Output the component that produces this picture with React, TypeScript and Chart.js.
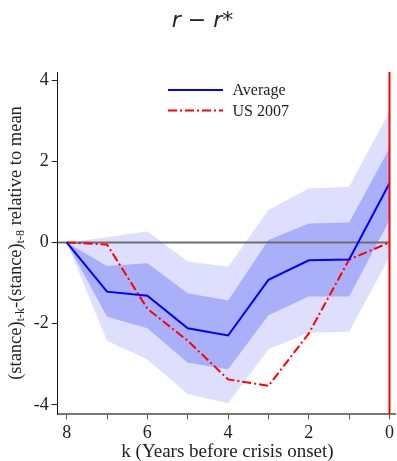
import React, { useEffect, useRef } from 'react';
import { Chart, registerables } from 'chart.js';
Chart.register(...registerables);

const K = [8, 7, 6, 5, 4, 3, 2, 1, 0];
const AVERAGE = [0, -1.21, -1.31, -2.11, -2.29, -0.92, -0.44, -0.42, 1.46];
const US_2007 = [0, -0.05, -1.63, -2.42, -3.37, -3.53, -2.24, -0.42, 0];
const INNER_UPPER = [0, -0.58, -0.51, -1.25, -1.43, 0.06, 0.47, 0.49, 2.32];
const INNER_LOWER = [0, -1.83, -2.11, -2.96, -3.12, -1.79, -1.33, -1.33, 0.55];
const OUTER_UPPER = [0, 0.13, 0.27, -0.47, -0.6, 0.8, 1.33, 1.37, 3.22];
const OUTER_LOWER = [0, -2.42, -2.88, -3.73, -3.96, -2.63, -2.22, -2.2, -0.35];
const X_TICKS = [8, 7, 6, 5, 4, 3, 2, 1, 0];
const Y_TICKS = [-4, -2, 0, 2, 4];
const LEGEND_LABELS = ['Average', 'US 2007'];

const SERIF = '"Liberation Serif", "DejaVu Serif", serif';
const LIGHT = '#dddffc';
const DARK = '#aaaff9';

export default function App() {
  const ref = useRef<HTMLCanvasElement>(null);
  useEffect(() => {
    const pts = (arr: number[]) => K.map((k, i) => ({ x: k, y: arr[i] }));
    const base = { pointRadius: 0, pointHoverRadius: 0, tension: 0 };
    const decor = {
      id: 'decor',
      beforeDatasetDraw(chart: any, args: any) {
        if (args.index !== 1) return;
        const ctx = chart.ctx;
        const { x, y } = chart.scales;
        const ca = chart.chartArea;
        ctx.save();
        ctx.strokeStyle = '#6e6e6e';
        ctx.lineWidth = 2;
        ctx.beginPath();
        const y0 = y.getPixelForValue(0);
        ctx.moveTo(ca.left, y0);
        ctx.lineTo(x.getPixelForValue(0), y0);
        ctx.stroke();
        ctx.restore();
      },
      afterDatasetsDraw(chart: any) {
        const ctx = chart.ctx;
        const { x } = chart.scales;
        const ca = chart.chartArea;
        ctx.save();
        ctx.strokeStyle = '#ff0000';
        ctx.lineWidth = 2;
        ctx.beginPath();
        const xp = x.getPixelForValue(0);
        ctx.moveTo(xp, ca.top);
        ctx.lineTo(xp, ca.bottom);
        ctx.stroke();
        ctx.restore();
      },
      afterDraw(chart: any) {
        const ctx = chart.ctx;
        ctx.save();
        // title
        ctx.fillStyle = '#222';
        ctx.font = 'italic 22px "DejaVu Sans", sans-serif';
        ctx.textAlign = 'center';
        ctx.textBaseline = 'alphabetic';
        ctx.fillText('r \u2212 r*', 202.5, 27);
        // x title
        ctx.font = `19px ${SERIF}`;
        ctx.fillText('k (Years before crisis onset)', 227.5, 457);
        // y title with subscripts
        const segs = [
          { t: '(stance)', sub: false },
          { t: 't-k', sub: true },
          { t: '-(stance)', sub: false },
          { t: 't-8', sub: true },
          { t: ' relative to mean', sub: false },
        ];
        const mainF = `18.5px ${SERIF}`;
        const subF = `12px ${SERIF}`;
        let total = 0;
        const widths = segs.map((s) => {
          ctx.font = s.sub ? subF : mainF;
          const w = ctx.measureText(s.t).width;
          total += w;
          return w;
        });
        ctx.translate(15, 243);
        ctx.rotate(-Math.PI / 2);
        ctx.textAlign = 'left';
        let px = -total / 2;
        segs.forEach((s, i) => {
          ctx.font = s.sub ? subF : mainF;
          ctx.fillText(s.t, px, s.sub ? 9 : 6);
          px += widths[i];
        });
        ctx.restore();
        // legend
        ctx.save();
        ctx.lineWidth = 2;
        ctx.strokeStyle = '#0000ff';
        ctx.beginPath();
        ctx.moveTo(168, 90);
        ctx.lineTo(223, 90);
        ctx.stroke();
        ctx.strokeStyle = '#ff0000';
        ctx.setLineDash([9, 3, 2, 3]);
        ctx.beginPath();
        ctx.moveTo(168, 110.5);
        ctx.lineTo(223, 110.5);
        ctx.stroke();
        ctx.setLineDash([]);
        ctx.fillStyle = '#222';
        ctx.font = `16px ${SERIF}`;
        ctx.textAlign = 'left';
        ctx.textBaseline = 'middle';
        ctx.fillText(LEGEND_LABELS[0], 232.5, 91);
        ctx.fillText(LEGEND_LABELS[1], 232.5, 111.5);
        ctx.restore();
      },
    };
    const chart = new Chart(ref.current as HTMLCanvasElement, {
      type: 'line',
      data: {
        datasets: [
          { ...base, label: 'Average', data: pts(AVERAGE), borderColor: '#0000ff', borderWidth: 2, fill: false, order: 0 },
          { ...base, label: 'US 2007', data: pts(US_2007), borderColor: '#ff0000', borderWidth: 2, borderDash: [9, 3, 2, 3], fill: false, order: 1 },
          { ...base, label: 'iu', data: pts(INNER_UPPER), borderWidth: 0, borderColor: 'transparent', backgroundColor: DARK, fill: '+1', order: 2 },
          { ...base, label: 'il', data: pts(INNER_LOWER), borderWidth: 0, borderColor: 'transparent', fill: false, order: 3 },
          { ...base, label: 'ou', data: pts(OUTER_UPPER), borderWidth: 0, borderColor: 'transparent', backgroundColor: LIGHT, fill: '+1', order: 4 },
          { ...base, label: 'ol', data: pts(OUTER_LOWER), borderWidth: 0, borderColor: 'transparent', fill: false, order: 5 },
        ] as any,
      },
      options: {
        animation: false,
        responsive: false,
        devicePixelRatio: 1,
        layout: { padding: { top: 72, left: 0, right: 0, bottom: 0 } },
        plugins: { legend: { display: false }, tooltip: { enabled: false }, title: { display: false } },
        scales: {
          x: {
            type: 'linear',
            reverse: true,
            min: -0.155,
            max: 8.222,
            afterBuildTicks: (s: any) => { s.ticks = X_TICKS.map((v) => ({ value: v })); },
            afterFit: (s: any) => { s.height = 46.7; },
            ticks: {
              autoSkip: false,
              maxRotation: 0,
              padding: 3,
              color: '#222',
              font: { family: SERIF, size: 18 },
              callback: (v: any) => (Number(v) % 2 === 0 ? String(v) : ''),
            },
            grid: { drawOnChartArea: false, tickLength: 5, tickColor: '#555', tickWidth: 1 },
            border: { color: '#777', width: 2 },
          },
          y: {
            min: -4.23,
            max: 4.197,
            afterBuildTicks: (s: any) => { s.ticks = Y_TICKS.map((v) => ({ value: v })); },
            afterFit: (s: any) => { s.width = 57.7; },
            ticks: { padding: 3, color: '#222', font: { family: SERIF, size: 18 } },
            grid: { drawOnChartArea: false, tickLength: 6, tickColor: '#222', tickWidth: 1 },
            border: { color: '#111', width: 1 },
          },
        },
      } as any,
      plugins: [decor],
    });
    return () => chart.destroy();
  }, []);
  return (
    <div style={{ position: 'fixed', left: 0, top: 0, width: 397, height: 461, background: '#fff' }}>
      <canvas ref={ref} width={397} height={461} style={{ width: 397, height: 461, display: 'block' }} />
    </div>
  );
}
